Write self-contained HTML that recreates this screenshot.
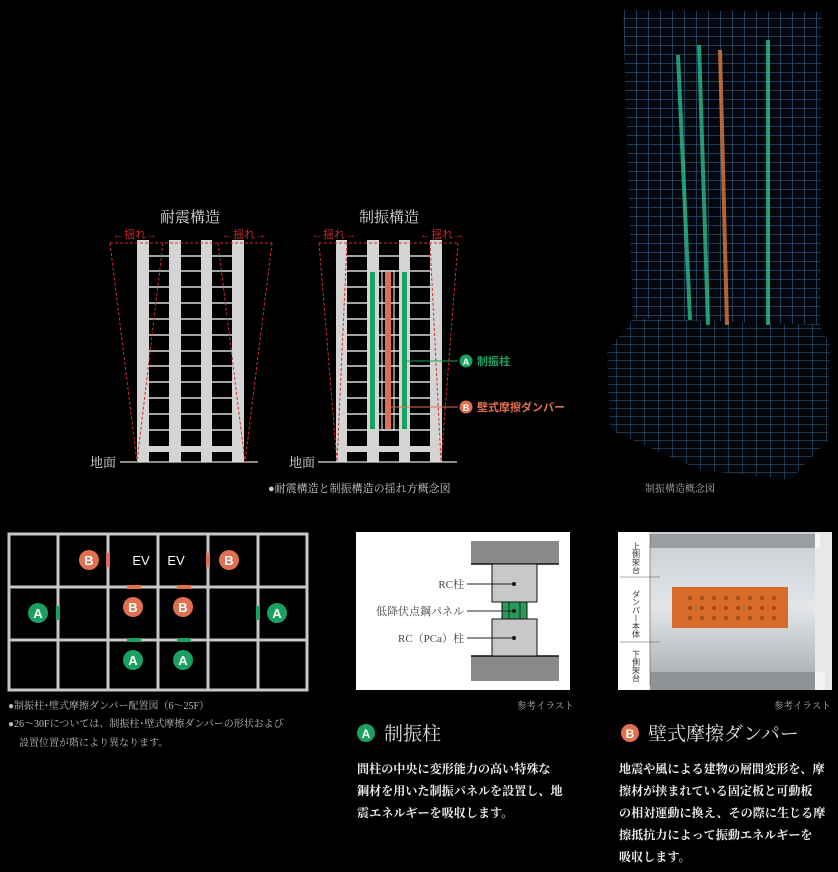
<!DOCTYPE html>
<html><head><meta charset="utf-8"><style>
html,body{margin:0;padding:0;background:#000;}
svg{display:block;}
text{font-family:"Liberation Serif","Noto Serif CJK SC","Noto Sans CJK JP",serif;}
text.s,.s text{font-family:"Liberation Sans","Noto Sans CJK JP",sans-serif;}
</style></head><body>
<svg width="838" height="872" viewBox="0 0 838 872" xmlns="http://www.w3.org/2000/svg">
<defs>
<pattern id="grid" width="12" height="9" patternUnits="userSpaceOnUse">
<rect width="12" height="9" fill="#03070d"/>
<path d="M0 0.5H12M0.5 0V9" stroke="#3f78a8" stroke-width="0.8" opacity="0.6"/>
</pattern>
<pattern id="grid2" width="14" height="8" patternUnits="userSpaceOnUse">
<rect width="14" height="8" fill="#02050a"/>
<path d="M0 0.5H14M0.5 0V8" stroke="#3f78a8" stroke-width="0.8" opacity="0.55"/>
</pattern>
<linearGradient id="steel" x1="0" x2="0" y1="0" y2="1">
<stop offset="0" stop-color="#c8ccd0"/><stop offset="0.5" stop-color="#e4e6e8"/><stop offset="1" stop-color="#a9adb2"/>
</linearGradient>
</defs>

<!-- Tower -->
<polygon points="623,10 822,12 820,330 633,325" fill="url(#grid)"/>
<polygon points="633,318 820,325 830,345 828,440 790,480 700,470 610,430 607,350 625,330" fill="url(#grid2)"/>
<line x1="678" y1="55" x2="690" y2="320" stroke="#2fd69a" stroke-width="4" opacity="0.7"/>
<line x1="699" y1="45" x2="708" y2="325" stroke="#2fd69a" stroke-width="4" opacity="0.7"/>
<line x1="720" y1="50" x2="727" y2="325" stroke="#e07a3a" stroke-width="4" opacity="0.8"/>
<line x1="768" y1="40" x2="768" y2="325" stroke="#2fd69a" stroke-width="4" opacity="0.7"/>
<text x="645" y="492" font-size="10" fill="#aaa">制振構造概念図</text>

<!-- Titles -->
<text x="190" y="222" font-size="15" fill="#ddd" text-anchor="middle">耐震構造</text>
<text x="389" y="222" font-size="15" fill="#ddd" text-anchor="middle">制振構造</text>
<g font-size="11" fill="#c0282a" class="s">
<text x="113" y="238">←揺れ→</text><text x="222" y="238">←揺れ→</text>
<text x="312" y="238">←揺れ→</text><text x="420" y="238">←揺れ→</text>
</g>

<!-- Buildings -->
<g stroke="#d8d8d8" stroke-width="1.6">
<path d="M149 256H232M149 271H232M149 287H232M149 303H232M149 319H232M149 335H232M149 351H232M149 366H232M149 382H232M149 398H232M149 414H232M149 430H232"/>
<path d="M347 256H430M347 271H430M347 287H430M347 303H430M347 319H430M347 335H430M347 351H430M347 366H430M347 382H430M347 398H430M347 414H430M347 430H430"/>
</g>
<g fill="#d4d4d4">
<rect x="137" y="240" width="12" height="222"/><rect x="169" y="240" width="12" height="222"/>
<rect x="201" y="240" width="11" height="222"/><rect x="232" y="240" width="12" height="222"/>
<rect x="137" y="446" width="107" height="6"/>
<rect x="336" y="240" width="11" height="222"/><rect x="367" y="240" width="12" height="222"/>
<rect x="399" y="240" width="11" height="222"/><rect x="430" y="240" width="12" height="222"/>
<rect x="336" y="446" width="106" height="6"/>
</g>
<rect x="382" y="271" width="12" height="159" fill="none" stroke="#fff" stroke-width="1"/>
<rect x="385" y="272" width="6" height="157" fill="#e07050"/>
<rect x="370" y="272" width="5" height="157" fill="#1aa060"/>
<rect x="402" y="272" width="5" height="157" fill="#1aa060"/>
<g stroke="#ddd" stroke-width="1.3">
<line x1="120" y1="462" x2="258" y2="462"/><line x1="318" y1="462" x2="457" y2="462"/>
</g>
<g fill="#ddd" font-size="13"><text x="90" y="467">地面</text><text x="289" y="467">地面</text></g>
<g stroke="#d03030" stroke-width="1" stroke-dasharray="3,2" fill="none">
<path d="M110 243H272M110 243L137 462M163 243L137 462M272 243L245 462M218 243L245 462"/>
<path d="M319 243H458M319 243L337 462M347 243L337 462M458 243L441 462M430 243L441 462"/>
</g>
<line x1="407" y1="361" x2="458" y2="361" stroke="#1aa060" stroke-width="1"/>
<line x1="391" y1="407" x2="458" y2="407" stroke="#e07050" stroke-width="1"/>
<g class="s">
<circle cx="466" cy="361" r="6.5" fill="#1aa060"/><text x="466" y="365" font-size="9" fill="#fff" text-anchor="middle" font-weight="bold">A</text>
<circle cx="466" cy="407" r="6.5" fill="#e07050"/><text x="466" y="411" font-size="9" fill="#fff" text-anchor="middle" font-weight="bold">B</text>
<text x="477" y="365" font-size="11" fill="#1aa060" font-weight="bold">制振柱</text>
<text x="477" y="411" font-size="11" fill="#e07050" font-weight="bold">壁式摩擦ダンパー</text>
</g>
<text x="268" y="492" font-size="11" fill="#ccc">●耐震構造と制振構造の揺れ方概念図</text>

<!-- Floor plan -->
<g stroke="#c8c8c8" stroke-width="3" fill="none">
<rect x="9" y="534" width="298" height="156"/>
<path d="M58 534V690M108 534V690M158 534V690M208 534V690M258 534V690M9 587H307M9 640H307"/>
</g>
<g fill="#e07050"><rect x="106" y="553" width="4" height="14"/><rect x="206" y="553" width="4" height="14"/><rect x="127" y="585" width="14" height="4"/><rect x="177" y="585" width="14" height="4"/></g>
<g fill="#1aa060"><rect x="56" y="606" width="4" height="14"/><rect x="256" y="606" width="4" height="14"/><rect x="127" y="638" width="14" height="4"/><rect x="177" y="638" width="14" height="4"/></g>
<g class="s" font-size="13" font-weight="bold" fill="#fff" text-anchor="middle">
<circle cx="89" cy="560" r="10" fill="#e07050"/><text x="89" y="565">B</text>
<circle cx="229" cy="560" r="10" fill="#e07050"/><text x="229" y="565">B</text>
<circle cx="133" cy="607" r="10" fill="#e07050"/><text x="133" y="612">B</text>
<circle cx="183" cy="607" r="10" fill="#e07050"/><text x="183" y="612">B</text>
<circle cx="38" cy="613" r="10" fill="#1aa060"/><text x="38" y="618">A</text>
<circle cx="277" cy="613" r="10" fill="#1aa060"/><text x="277" y="618">A</text>
<circle cx="133" cy="660" r="10" fill="#1aa060"/><text x="133" y="665">A</text>
<circle cx="183" cy="660" r="10" fill="#1aa060"/><text x="183" y="665">A</text>
<text x="141" y="565" font-weight="normal">EV</text><text x="176" y="565" font-weight="normal">EV</text>
</g>
<g font-size="10" fill="#bbb">
<text x="8" y="709">●制振柱･壁式摩擦ダンパー配置図（6～25F）</text>
<text x="8" y="727">●26～30Fについては、制振柱･壁式摩擦ダンパーの形状および</text>
<text x="19" y="746">設置位置が階により異なります。</text>
</g>

<!-- Middle illustration -->
<rect x="356" y="532" width="214" height="158" fill="#fff"/>
<rect x="471" y="541" width="88" height="23" fill="#8a8a8a"/>
<rect x="471" y="656" width="88" height="25" fill="#8a8a8a"/>
<line x1="471" y1="564" x2="559" y2="564" stroke="#111" stroke-width="1.5"/>
<line x1="471" y1="656" x2="559" y2="656" stroke="#111" stroke-width="1.5"/>
<rect x="492" y="564" width="45" height="38" fill="#c8c8c8" stroke="#111" stroke-width="1"/>
<rect x="492" y="619" width="45" height="37" fill="#c8c8c8" stroke="#111" stroke-width="1"/>
<rect x="502" y="602" width="25" height="17" fill="#2a9a5a" stroke="#111" stroke-width="1"/>
<path d="M509 602V619M520 602V619" stroke="#111" stroke-width="0.8"/>
<g stroke="#222" stroke-width="1"><path d="M467 584H514M467 611H514M467 638H514"/></g>
<g fill="#111"><circle cx="514" cy="584" r="2"/><circle cx="514" cy="611" r="2"/><circle cx="514" cy="638" r="2"/></g>
<g font-size="11" fill="#444" text-anchor="end">
<text x="464" y="588">RC柱</text><text x="464" y="615">低降伏点鋼パネル</text><text x="464" y="642">RC（PCa）柱</text>
</g>
<text x="517" y="709" font-size="9.5" fill="#bbb">参考イラスト</text>

<!-- Right illustration -->
<rect x="618" y="532" width="214" height="158" fill="#1a1a1a"/>
<rect x="650" y="532" width="165" height="150" fill="url(#steel)"/>
<rect x="645" y="534" width="175" height="14" fill="#9a9ea3"/>
<rect x="645" y="672" width="180" height="18" fill="#8f9397"/>
<rect x="618" y="532" width="32" height="158" fill="#fff"/>
<rect x="815" y="532" width="17" height="158" fill="#fff" opacity="0.9"/>
<rect x="672" y="587" width="116" height="41" fill="#d96b2a"/>
<g fill="#a34a1a">
<circle cx="690" cy="598" r="2"/><circle cx="702" cy="598" r="2"/><circle cx="714" cy="598" r="2"/><circle cx="726" cy="598" r="2"/><circle cx="738" cy="598" r="2"/><circle cx="750" cy="598" r="2"/><circle cx="762" cy="598" r="2"/><circle cx="774" cy="598" r="2"/>
<circle cx="690" cy="608" r="2"/><circle cx="702" cy="608" r="2"/><circle cx="714" cy="608" r="2"/><circle cx="726" cy="608" r="2"/><circle cx="738" cy="608" r="2"/><circle cx="750" cy="608" r="2"/><circle cx="762" cy="608" r="2"/><circle cx="774" cy="608" r="2"/>
<circle cx="690" cy="618" r="2"/><circle cx="702" cy="618" r="2"/><circle cx="714" cy="618" r="2"/><circle cx="726" cy="618" r="2"/><circle cx="738" cy="618" r="2"/><circle cx="750" cy="618" r="2"/><circle cx="762" cy="618" r="2"/><circle cx="774" cy="618" r="2"/>
</g>
<g stroke="#555" stroke-width="0.6"><path d="M620 577H660M620 642H660M650 534V686"/></g>
<g font-size="8" fill="#333" class="s">
<text x="636" y="542" writing-mode="tb">上側架台</text>
<text x="636" y="590" writing-mode="tb">ダンパー本体</text>
<text x="636" y="650" writing-mode="tb">下側架台</text>
</g>
<text x="774" y="709" font-size="9.5" fill="#bbb">参考イラスト</text>

<!-- Headings -->
<g class="s">
<circle cx="366" cy="733" r="9" fill="#1aa060"/><text x="366" y="738" font-size="12" font-weight="bold" fill="#fff" text-anchor="middle">A</text>
<circle cx="630" cy="733" r="9" fill="#e07050"/><text x="630" y="738" font-size="12" font-weight="bold" fill="#fff" text-anchor="middle">B</text>
</g>
<text x="384" y="740" font-size="19" fill="#ddd">制振柱</text>
<text x="648" y="740" font-size="19" fill="#ddd">壁式摩擦ダンパー</text>
<g font-size="12.1" fill="#eee" font-weight="bold">
<text x="357" y="773">間柱の中央に変形能力の高い特殊な</text>
<text x="357" y="795">鋼材を用いた制振パネルを設置し、地</text>
<text x="357" y="817">震エネルギーを吸収します。</text>
<text x="619" y="773">地震や風による建物の層間変形を、摩</text>
<text x="619" y="795">擦材が挟まれている固定板と可動板</text>
<text x="619" y="817">の相対運動に換え、その際に生じる摩</text>
<text x="619" y="839">擦抵抗力によって振動エネルギーを</text>
<text x="619" y="861">吸収します。</text>
</g>
</svg>
</body></html>
